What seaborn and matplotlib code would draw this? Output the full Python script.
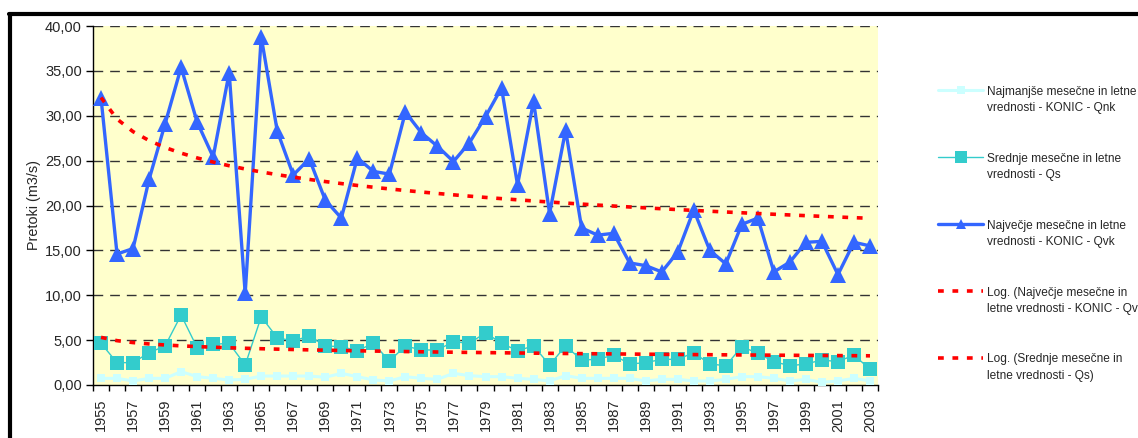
import numpy as np
import pandas as pd
import matplotlib
matplotlib.use("Agg")
import matplotlib.pyplot as plt
from matplotlib.lines import Line2D
from matplotlib.ticker import FixedLocator, FuncFormatter
import seaborn as sns

years = list(range(1955, 2004))

qnk = [0.74, 0.74, 0.45, 0.74, 0.74, 1.49, 0.93, 0.74, 0.56, 0.63,
       1.00, 1.00, 1.00, 1.00, 0.86, 1.30, 0.93, 0.56, 0.45, 0.93,
       0.74, 0.63, 1.30, 1.04, 0.93, 0.93, 0.74, 0.63, 0.45, 1.04,
       0.74, 0.74, 0.74, 0.74, 0.45, 0.63, 0.63, 0.45, 0.45, 0.63,
       0.93, 0.93, 0.74, 0.45, 0.63, 0.30, 0.45, 0.74, 0.45]

qs = [4.64, 2.49, 2.49, 3.60, 4.35, 7.80, 4.16, 4.53, 4.64, 2.23,
      7.60, 5.27, 4.90, 5.46, 4.35, 4.27, 3.83, 4.64, 2.67, 4.35,
      3.90, 3.90, 4.83, 4.64, 5.83, 4.64, 3.83, 4.35, 2.23, 4.35,
      2.79, 2.86, 3.34, 2.34, 2.49, 2.86, 2.86, 3.60, 2.34, 2.15,
      4.27, 3.53, 2.60, 2.15, 2.34, 2.79, 2.60, 3.34, 1.75]

qvk = [32.0, 14.6, 15.2, 22.9, 29.1, 35.4, 29.3, 25.4, 34.8, 10.2,
       38.8, 28.3, 23.4, 25.2, 20.6, 18.6, 25.3, 23.8, 23.5, 30.4,
       28.1, 26.6, 24.9, 27.0, 29.9, 33.1, 22.3, 31.6, 19.1, 28.4,
       17.5, 16.7, 16.9, 13.6, 13.3, 12.6, 14.8, 19.5, 15.0, 13.5,
       17.9, 18.6, 12.6, 13.7, 15.9, 16.0, 12.3, 15.9, 15.5]

lbl_qnk = "Najmanjše mesečne in letne\nvrednosti - KONIC - Qnk"
lbl_qs = "Srednje mesečne in letne\nvrednosti - Qs"
lbl_qvk = "Največje mesečne in letne\nvrednosti - KONIC - Qvk"
lbl_tvk = "Log. (Največje mesečne in\nletne vrednosti - KONIC - Qv"
lbl_ts = "Log. (Srednje mesečne in\nletne vrednosti - Qs)"

idx = np.arange(len(years))
df = pd.DataFrame({"i": idx, "year": years, "qnk": qnk, "qs": qs, "qvk": qvk})

# logarithmic trendlines (Excel "Log." trendline fitted to the data)
lx = np.log(idx + 1)
a1, b1 = np.polyfit(lx, df["qvk"], 1)
a2, b2 = np.polyfit(lx, df["qs"], 1)
df["tvk"] = a1 * lx + b1
df["ts"] = a2 * lx + b2

sns.set_style("white")
plt.rcParams["font.family"] = ["Liberation Sans", "DejaVu Sans"]

fig = plt.figure(figsize=(11.38, 4.38), dpi=100)
W, H = 1138, 438
L, R, T, B = 93, 878, 26, 385
ax = fig.add_axes([L / W, 1 - B / H, (R - L) / W, (B - T) / H])
ax.set_facecolor("#FFFFCC")

# grid
for v in range(5, 41, 5):
    ax.axhline(v, color="#333333", lw=1.0, ls=(0, (7, 5)), zorder=0.5)

sns.lineplot(data=df, x="i", y="qnk", ax=ax, color="#CCFFFF", lw=2.2,
             marker="s", markersize=6, markeredgewidth=0, label=lbl_qnk, zorder=3)
sns.lineplot(data=df, x="i", y="qs", ax=ax, color="#33CCCC", lw=1.0,
             marker="s", markersize=10, markeredgewidth=0, label=lbl_qs, zorder=3)
sns.lineplot(data=df, x="i", y="qvk", ax=ax, color="#3366FF", lw=2.4,
             marker="^", markersize=11, markeredgewidth=0, label=lbl_qvk, zorder=3)
sns.lineplot(data=df, x="i", y="tvk", ax=ax, color="#FF0000", lw=2.6,
             ls=(0, (1.6, 2.4)), label=lbl_tvk, zorder=4)
sns.lineplot(data=df, x="i", y="ts", ax=ax, color="#FF0000", lw=2.6,
             ls=(0, (1.6, 2.4)), label=lbl_ts, zorder=4)

ax.set_xlim(-0.5, len(years) - 0.5)
ax.set_ylim(0, 40)
ax.set_yticks(range(0, 41, 5))
ax.yaxis.set_major_formatter(FuncFormatter(lambda v, p: f"{v:.2f}".replace(".", ",")))

ax.set_xticks(idx[::2])
ax.set_xticklabels([str(y) for y in years[::2]], rotation=90, fontsize=10.5)
ax.xaxis.set_minor_locator(FixedLocator(np.arange(-0.5, len(years), 1.0)))
ax.tick_params(axis="x", which="major", length=0, pad=10)
ax.tick_params(axis="x", which="minor", length=4, width=1, color="black", direction="out", bottom=True)
ax.tick_params(axis="y", length=5, width=1, color="black", direction="out", left=True, labelsize=10.5, pad=3)

for s in ["top", "right"]:
    ax.spines[s].set_visible(False)
for s in ["left", "bottom"]:
    ax.spines[s].set_color("black")
    ax.spines[s].set_linewidth(1.0)

ax.set_xlabel("")
ax.set_ylabel("Pretoki (m3/s)", fontsize=10.4, labelpad=3)

ax.get_legend().remove()
handles, labels = ax.get_legend_handles_labels()
leg = fig.legend(handles, labels, loc="upper left",
                 bbox_to_anchor=(938 / W, 1 - 86 / H), frameon=False,
                 fontsize=8.6, handlelength=3.8, handletextpad=0.3,
                 labelspacing=3.25, borderaxespad=0, borderpad=0)
for t in leg.get_texts():
    t.set_linespacing(1.45)
for h in leg.legend_handles:
    if h.get_marker() == "^":
        h.set_markersize(7)
    elif h.get_marker() == "s" and h.get_color() == "#33CCCC":
        h.set_markersize(9)
# align each legend handle with the first line of its label
for col in leg._legend_handle_box.get_children():
    for item in col.get_children():
        item.align = "top"

# chart frame (top and left visible edges)
fig.add_artist(Line2D([9 / W, 1], [1 - 14 / H, 1 - 14 / H], color="black", lw=3, transform=fig.transFigure))
fig.add_artist(Line2D([10 / W, 10 / W], [0, 1 - 14 / H], color="black", lw=3, transform=fig.transFigure))

fig.savefig("out.png", dpi=100, facecolor="white")
